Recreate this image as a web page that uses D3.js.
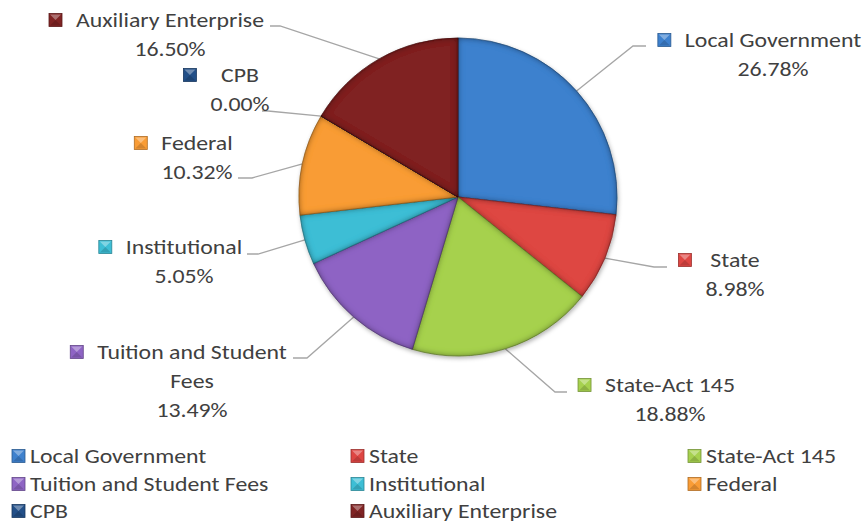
<!DOCTYPE html>
<html>
<head>
<meta charset="utf-8">
<script src="https://cdn.jsdelivr.net/npm/d3@7"></script>
<style>
  body { margin: 0; background: #fff; }
  svg text { font-family: Carlito, Calibri, "Open Sans", sans-serif; fill: #404040; }
</style>
</head>
<body>
<div id="chart"></div>
<script>
"use strict"

// data
const categories = ["Local Government", "State", "State-Act 145", "Tuition and Student Fees",
                    "Institutional", "Federal", "CPB", "Auxiliary Enterprise"];
const shares = [26.78, 8.98, 18.88, 13.49, 5.05, 10.32, 0.00, 16.50];
// label text as wrapped in the picture
const labelNames = [["Local Government"], ["State"], ["State-Act 145"], ["Tuition and Student", "Fees"],
                    ["Institutional"], ["Federal"], ["CPB"], ["Auxiliary Enterprise"]];

// styles / layout
const colors = ["#3e81ce", "#de4643", "#a6d14e", "#8e64c4", "#3dbed5", "#f99c35", "#224f88", "#802424"];
// [text centre x, first line centre y, elbow x, elbow y, leader end x]
const labelLayout = [
  [773, 40, 633, 46, 646],
  [735, 260, 654, 267, 667],
  [670, 385, 555, 392, 567],
  [192, 352, 307, 358, 293],
  [184, 247, 258, 254, 247],
  [197, 143, 252, 178, 238],
  [240, 75, 268, 111, 262],
  [170, 20, 280, 26, 270]
];
const legendCols = [12, 351, 688];
const legendRows = [456, 484, 511];

const width = 864, height = 525;
const center = {x: 458, y: 197};
const radius = 159;
const fontSize = 20, lineHeight = 29, stretch = 1.19;

const svg = d3.select("#chart").append("svg")
    .attr("width", width)
    .attr("height", height);

// filters for the bevelled look
const defs = svg.append("defs");
const bevel = defs.append("filter").attr("id", "bevel")
    .attr("filterUnits", "userSpaceOnUse")
    .attr("x", -200).attr("y", -200).attr("width", 400).attr("height", 400);
bevel.append("feGaussianBlur").attr("in", "SourceAlpha").attr("stdDeviation", 3).attr("result", "blur");
bevel.append("feComposite").attr("in", "SourceAlpha").attr("in2", "blur")
    .attr("operator", "out").attr("result", "edge");
bevel.append("feComponentTransfer").attr("in", "edge").attr("result", "edgeBoost")
  .append("feFuncA").attr("type", "linear").attr("slope", 1.6);
bevel.append("feFlood").attr("flood-color", "#000").attr("flood-opacity", 0.55).attr("result", "black");
bevel.append("feComposite").attr("in", "black").attr("in2", "edgeBoost").attr("operator", "in").attr("result", "shade");
const bm = bevel.append("feMerge");
bm.append("feMergeNode").attr("in", "SourceGraphic");
bm.append("feMergeNode").attr("in", "shade");

const shadow = defs.append("filter").attr("id", "shadow")
    .attr("x", "-10%").attr("y", "-10%").attr("width", "120%").attr("height", "120%");
shadow.append("feDropShadow").attr("dx", 1).attr("dy", 2).attr("stdDeviation", 2)
    .attr("flood-color", "#000").attr("flood-opacity", 0.3);

const color = d3.scaleOrdinal().domain(categories).range(colors);

const pie = d3.pie().sort(null).value(function(d) { return d.value; });
const arc = d3.arc().innerRadius(0).outerRadius(radius);
const edgeArc = d3.arc().innerRadius(radius).outerRadius(radius);

const data = categories.map(function(c, i) { return {key: c, value: shares[i], index: i}; });
const arcs = pie(data);

// leader lines (under the pie)
const leaders = svg.append("g").attr("class", "leaders");
arcs.forEach(function(a) {
  const lay = labelLayout[a.data.index];
  const p = edgeArc.centroid(a);
  leaders.append("polyline")
    .attr("points", [[center.x + p[0], center.y + p[1]], [lay[2], lay[3]], [lay[4], lay[3]]].join(" "))
    .attr("fill", "none")
    .attr("stroke", "#a6a6a6")
    .attr("stroke-width", 1.3);
});

// slices
const pieLayer = svg.append("g")
    .attr("transform", "translate(" + center.x + "," + center.y + ")")
    .attr("filter", "url(#shadow)");
pieLayer.selectAll(".slice")
  .data(arcs)
  .enter().append("path")
    .attr("class", "slice")
    .attr("d", arc)
    .attr("fill", function(d) { return color(d.data.key); })
    .attr("stroke", function(d) { return d3.color(color(d.data.key)).darker(1.2); })
    .attr("stroke-width", 0.6)
    .attr("filter", "url(#bevel)");

// small bevelled key square
function drawKey(where, x, y, c, s) {
  const g = where.append("g").attr("transform", "translate(" + x + "," + y + ")");
  g.append("rect").attr("width", s).attr("height", s)
    .attr("fill", c).attr("stroke", d3.color(c).darker(1)).attr("stroke-width", 0.8);
  g.append("polygon").attr("points", [[1, 1], [s - 1, 1], [s / 2, s / 2]].join(" "))
    .attr("fill", "#fff").attr("opacity", 0.35);
  g.append("polygon").attr("points", [[1, s - 1], [s - 1, s - 1], [s / 2, s / 2]].join(" "))
    .attr("fill", "#000").attr("opacity", 0.15);
}

// text stretched sideways to the reference's proportions
function addText(where, x, y, t, anchor) {
  return where.append("text")
    .attr("transform", "translate(" + x + "," + y + ") scale(" + stretch + ",1)")
    .attr("dy", "0.35em")
    .attr("text-anchor", anchor)
    .style("font-size", fontSize + "px")
    .text(t);
}

// data labels
const labels = svg.append("g").attr("class", "labels");
arcs.forEach(function(a) {
  const i = a.data.index, lay = labelLayout[i];
  const lines = labelNames[i].concat([d3.format(".2f")(a.data.value) + "%"]);
  const texts = lines.map(function(t, k) {
    return addText(labels, lay[0], lay[1] + k * lineHeight, t, "middle");
  });
  const maxW = stretch * d3.max(texts, function(t) { return t.node().getComputedTextLength(); });
  drawKey(labels, lay[0] - maxW / 2 - 27, lay[1] - 6.5, color(a.data.key), 13);
});

// legend
const legend = svg.append("g").attr("class", "legend");
categories.forEach(function(c, i) {
  const x = legendCols[i % 3], y = legendRows[Math.floor(i / 3)];
  drawKey(legend, x, y - 6.5, color(c), 13);
  addText(legend, x + 18, y, c, "start");
});
</script>
</body>
</html>
